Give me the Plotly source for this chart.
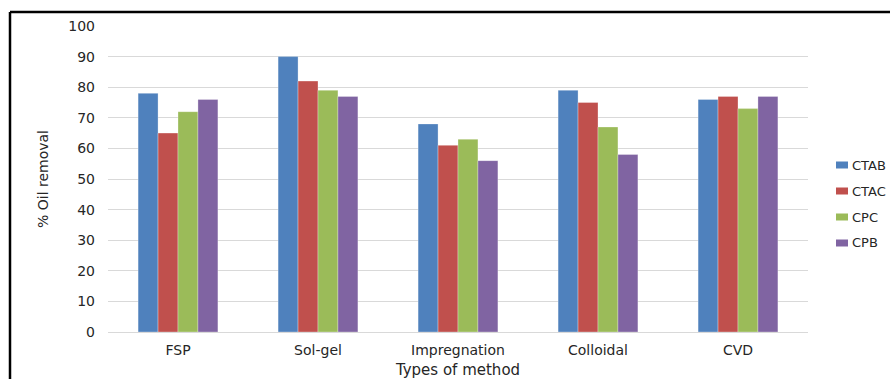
import plotly.graph_objects as go

methods = ["FSP", "Sol-gel", "Impregnation", "Colloidal", "CVD"]
ctab = [78, 90, 68, 79, 76]
ctac = [65, 82, 61, 75, 77]
cpc = [72, 79, 63, 67, 73]
cpb = [76, 77, 56, 58, 77]

series = [("CTAB", ctab, "#4F81BD"), ("CTAC", ctac, "#C0504D"),
          ("CPC", cpc, "#9BBB59"), ("CPB", cpb, "#8064A2")]

fig = go.Figure()
for name, vals, col in series:
    fig.add_trace(go.Bar(x=methods, y=vals, name=name, showlegend=False,
                         marker=dict(color=col, line=dict(color="rgba(255,255,255,0.5)", width=0.6))))

W, H = 890, 379
L, R, T, B = 108, 82, 26, 47
pw, ph = W - L - R, H - T - B

def px(x):
    return (x - L) / pw

def py(y):
    return (H - B - y) / ph

font = "DejaVu Sans, sans-serif"
text_col = "#262626"

shapes = [
    dict(type="line", xref="paper", yref="paper",
         x0=px(10), x1=px(W + 5), y0=py(12), y1=py(12),
         line=dict(color="black", width=2.5)),
    dict(type="line", xref="paper", yref="paper",
         x0=px(10), x1=px(10), y0=py(12), y1=py(H + 5),
         line=dict(color="black", width=2.5)),
]
annotations = []

# key box on the right: swatch plus series name per row
for i, (name, vals, col) in enumerate(series):
    yc = 165 + i * 26
    shapes.append(dict(type="rect", xref="paper", yref="paper",
                       x0=px(836), x1=px(848), y0=py(yc + 3.5), y1=py(yc - 3.5),
                       fillcolor=col, line=dict(width=0)))
    annotations.append(dict(xref="paper", yref="paper", x=px(850), y=py(yc),
                            xanchor="left", yanchor="middle", showarrow=False,
                            text=name, font=dict(size=13, color=text_col, family=font)))

fig.update_layout(
    width=W, height=H,
    margin=dict(l=L, r=R, t=T, b=B, autoexpand=False),
    paper_bgcolor="white", plot_bgcolor="white",
    barmode="group", bargap=0.43, bargroupgap=0,
    font=dict(family=font, size=14, color=text_col),
    showlegend=False,
    xaxis=dict(title=dict(text="Types of method", font=dict(size=15), standoff=11),
               automargin=False, showgrid=False, showline=False, ticks="",
               ticklabelstandoff=8, tickfont=dict(size=14)),
    yaxis=dict(title=dict(text="% Oil removal", font=dict(size=14), standoff=16),
               automargin=False, range=[0, 100], dtick=10, showgrid=True,
               gridcolor="#D9D9D9", gridwidth=1.2, zeroline=True,
               zerolinecolor="#D9D9D9", zerolinewidth=1.2, showline=False,
               ticks="", ticklabelstandoff=12, tickfont=dict(size=14)),
    shapes=shapes,
    annotations=annotations,
)

fig.write_html("out.html")
